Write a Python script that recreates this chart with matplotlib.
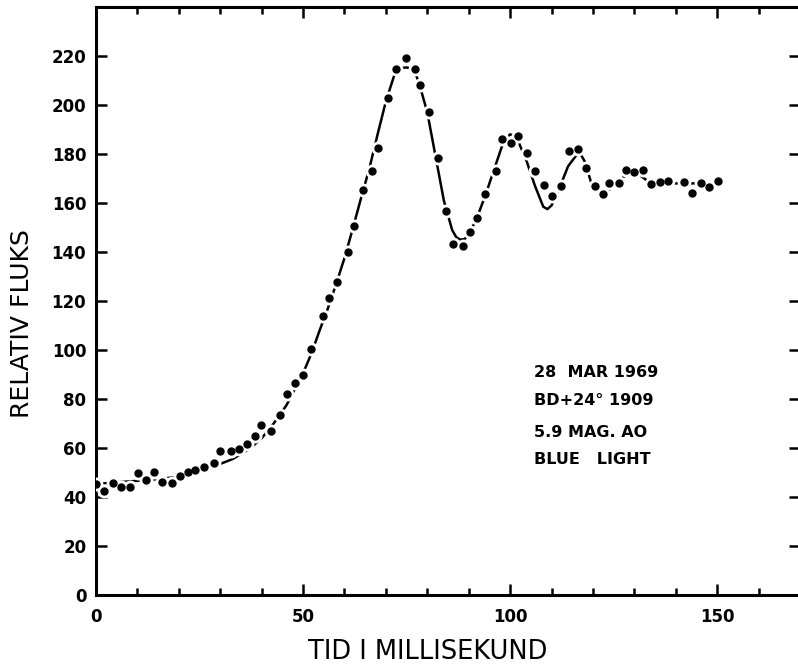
import matplotlib
matplotlib.use("Agg")
import matplotlib.pyplot as plt
from matplotlib.ticker import MultipleLocator

# measured points (time in ms, relative flux)
t_obs = [0.0, 1.9, 4.1, 6.1, 8.1, 10.1, 12.0, 13.9, 15.9, 18.4, 20.2, 22.2,
         24.0, 26.2, 28.4, 29.9, 32.6, 34.5, 36.5, 38.5, 39.9, 42.3, 44.4,
         46.1, 48.1, 50.1, 52.0, 54.7, 56.3, 58.3, 60.8, 62.2, 64.4, 66.6,
         68.2, 70.4, 72.4, 74.8, 77.0, 78.3, 80.4, 82.5, 84.5, 86.3, 88.6,
         90.3, 92.1, 94.0, 96.5, 98.1, 100.2, 102.0, 104.0, 106.0, 108.1,
         110.0, 112.3, 114.1, 116.4, 118.3, 120.4, 122.5, 123.9, 126.2,
         128.1, 130.0, 132.0, 134.1, 136.3, 138.2, 142.1, 144.0, 146.0,
         148.1, 150.3]
f_obs = [45.3, 42.6, 45.9, 44.1, 44.1, 50.0, 46.9, 50.4, 46.0, 45.9, 48.6,
         50.4, 51.1, 52.2, 53.8, 58.6, 58.8, 59.5, 61.7, 65.1, 69.2, 67.1,
         73.6, 82.0, 86.5, 89.8, 100.4, 114.0, 121.1, 127.8, 140.0, 150.5,
         165.5, 172.9, 182.5, 203.0, 214.5, 219.0, 214.5, 208.0, 197.3,
         178.5, 156.6, 143.4, 142.3, 148.1, 153.9, 163.5, 173.0, 186.0,
         184.3, 187.3, 180.5, 173.0, 167.3, 162.8, 166.9, 181.2, 182.1,
         174.1, 166.9, 163.5, 168.0, 168.0, 173.4, 172.6, 173.4, 167.6,
         168.5, 168.8, 168.5, 164.2, 168.0, 166.4, 168.9]

# hand drawn fitted curve
t_fit = [0, 5, 10, 15, 20, 25, 30, 33, 36, 38, 40, 42, 44, 46, 48, 50, 52,
         54, 56, 58, 60, 62, 64, 66, 68, 70, 72, 73, 74, 75, 76, 77, 78, 80,
         82, 84, 86, 87, 88, 89, 90, 92, 94, 96, 98, 99, 100, 101, 102, 104,
         106, 108, 109, 110, 112, 114, 116, 117, 118, 120, 122, 124, 126,
         128, 130, 132, 134, 136, 140, 145, 150]
f_fit = [45.3, 46.0, 46.6, 47.3, 48.3, 50.3, 53.5, 55.5, 58.5, 61.0, 64.0,
         68.0, 72.5, 77.5, 84.0, 90.5, 98.5, 108.0, 117.0, 127.0, 137.5,
         149.5, 162.0, 174.0, 188.0, 201.5, 212.0, 214.3, 215.2, 215.3,
         215.0, 213.5, 209.0, 197.0, 179.0, 161.0, 149.0, 146.0, 145.0,
         145.3, 147.0, 154.0, 163.0, 173.0, 183.0, 186.5, 188.0, 187.5,
         185.0, 177.0, 167.0, 158.5, 157.5, 159.0, 166.5, 175.0, 179.5,
         180.0, 177.0, 166.0, 163.5, 165.5, 168.5, 171.5, 173.0, 170.5,
         168.0, 168.0, 168.0, 168.0, 168.0]

info = ["28  MAR 1969", "BD+24° 1909", "5.9 MAG. AO", "BLUE   LIGHT"]
info_y = [90.7, 79.3, 66.2, 55.2]

fig = plt.figure(figsize=(7.98, 6.65), dpi=100)
ax = fig.add_axes([96 / 798, 70 / 665, 704 / 798, 588 / 665])

ax.plot(t_fit, f_fit, color="black", lw=1.8, zorder=2)
# white halo around dots breaks the curve like the original drawing
ax.plot(t_obs, f_obs, "o", color="white", ms=9, mec="white", zorder=3)
ax.plot(t_obs, f_obs, "o", color="black", ms=5, zorder=4)

ax.set_xlim(0, 170)
ax.set_ylim(0, 240)
ax.xaxis.set_major_locator(MultipleLocator(50))
ax.xaxis.set_minor_locator(MultipleLocator(10))
ax.set_yticks(range(0, 221, 20))

for s in ax.spines.values():
    s.set_linewidth(2.2)
ax.tick_params(which="both", direction="in", top=True, right=True,
               width=1.8, labelsize=12)
ax.tick_params(which="major", length=8)
ax.tick_params(which="minor", length=5)
ax.tick_params(axis="x", pad=9)
ax.tick_params(axis="y", pad=7)
for lab in ax.get_xticklabels() + ax.get_yticklabels():
    lab.set_fontweight("bold")

fig.text(428 / 798, 1 - 652 / 665, "TID I MILLISEKUND", fontsize=18.5,
         ha="center", va="center")
fig.text(22 / 798, 1 - 324 / 665, "RELATIV FLUKS", fontsize=18,
         rotation=90, ha="center", va="center")

for txt, yy in zip(info, info_y):
    ax.text(105.8, yy, txt, fontsize=11.5, fontweight="bold",
            ha="left", va="center")

fig.savefig("out.png", dpi=100)
